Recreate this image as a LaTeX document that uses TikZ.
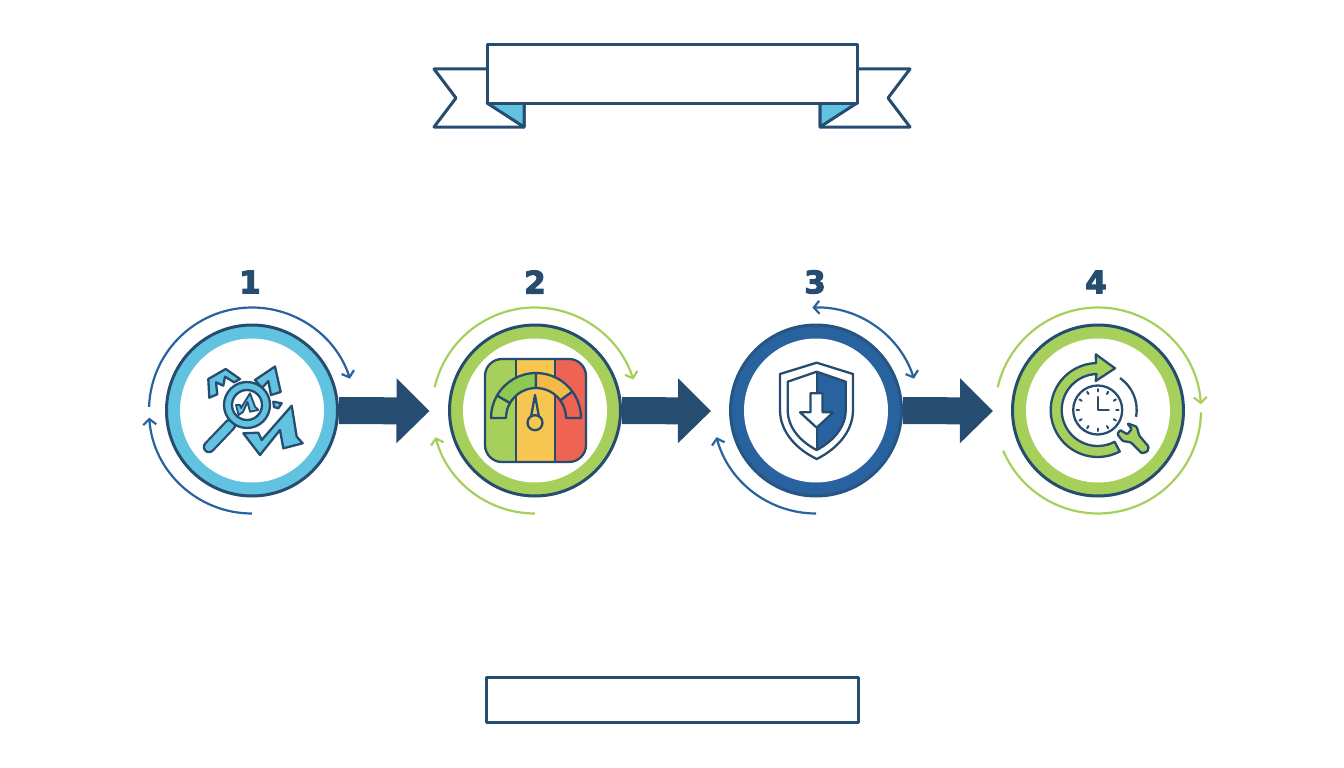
\documentclass[tikz,border=0pt]{standalone}
\usepackage{fontspec}
\setmainfont{DejaVu Sans}[BoldFeatures={FakeBold=3.5}]
\usepackage{tikz}
\usetikzlibrary{arrows.meta,calc}
\definecolor{navy}{HTML}{264D70}
\definecolor{skyc}{HTML}{62C3E0}
\definecolor{leaf}{HTML}{A6CF5B}
\definecolor{deepb}{HTML}{28629F}
\definecolor{sun}{HTML}{F6C650}
\definecolor{coral}{HTML}{EE6352}
\definecolor{amber}{HTML}{F5B947}
\definecolor{midgreen}{HTML}{8FC850}
\newcommand{\orbitarc}[5]
{
\draw[orbit,draw=#2,#5] ([shift={(#3:103)}]#1.center) arc[start angle=#3,end angle=#4,radius=103];
}
\tikzstyle{ringnode}=[circle,line width=3pt,minimum size=171pt,inner sep=0pt]
\tikzstyle{holenode}=[circle,fill=white,minimum size=144pt,inner sep=0pt]
\tikzstyle{numnode}=[font=\bfseries\fontsize{31}{31}\selectfont,text=navy,inner sep=0pt]
\tikzstyle{orbit}=[line width=2.2pt,>={Straight Barb[length=5.5pt,width=13pt]}]
\tikzstyle{flow}=[draw=navy,line width=27pt,-{Triangle[length=33pt,width=63pt]}]
\tikzstyle{ribbon}=[draw=navy,line width=3pt,line join=round]
\tikzstyle{icon}=[draw=navy,line width=2.3pt,line join=round]
\begin{document}
\begin{tikzpicture}[x=1pt,y=1pt]
\useasboundingbox (0,0) rectangle (1344,-768);
% title ribbon
\draw[ribbon,fill=white] (487,-69) -- (434,-69) -- (456,-98) -- (434,-127) -- (524,-127) -- (524,-103);
\draw[ribbon,fill=white] (857,-69) -- (910,-69) -- (888,-98) -- (910,-127) -- (820,-127) -- (820,-103);
\draw[ribbon,fill=skyc] (487,-103) -- (524,-103) -- (524,-127) -- cycle;
\draw[ribbon,fill=skyc] (857,-103) -- (820,-103) -- (820,-127) -- cycle;
\node[ribbon,fill=white,minimum width=370pt,minimum height=58pt,inner sep=0pt] (banner) at (672,-74) {};
\node[ribbon,minimum width=372pt,minimum height=45pt,inner sep=0pt] (footer) at (672,-699.5) {};
% step circles
\node[ringnode,draw=navy,fill=skyc] (c1) at (252,-410.5) {};
\node[ringnode,draw=navy,fill=leaf] (c2) at (535,-410.5) {};
\node[ringnode,draw=navy!60!deepb,fill=deepb] (c3) at (816,-410.5) {};
\node[ringnode,draw=navy,fill=leaf] (c4) at (1098,-410.5) {};
\foreach \i in {1,2,3,4} {\node[holenode] (h\i) at (c\i) {};}
\node[numnode] (n1) at (250,-282) {1};
\node[numnode] (n2) at (535,-282) {2};
\node[numnode] (n3) at (815,-282) {3};
\node[numnode] (n4) at (1096,-282) {4};
\coordinate (t1) at (429.5,-411);
\coordinate (t2) at (711,-411);
\coordinate (t3) at (993,-411);
\draw[flow] (c1.east) -- (t1);
\draw[flow] (c2.east) -- (t2);
\draw[flow] (c3.east) -- (t3);
% arcs round the circles
\orbitarc{c1}{deepb}{178}{18}{->}
\orbitarc{c1}{deepb}{270}{184}{->}
\orbitarc{c2}{leaf}{167}{17.5}{->}
\orbitarc{c2}{leaf}{270}{195}{->}
\orbitarc{c3}{deepb}{92}{18}{<->}
\orbitarc{c3}{deepb}{270}{195}{->}
\orbitarc{c4}{leaf}{167}{3.5}{->}
\orbitarc{c4}{leaf}{-1}{-157}{}
% icon 1
\draw[icon,fill=skyc] (208.3,-379) -- (225.7,-369) -- (240,-379) -- (234,-382.3) -- (225,-376.7) -- (223.3,-385.7) -- (216,-382.3) -- (217.3,-394.3) -- (209.3,-397.7) -- cycle;
\draw[icon,fill=skyc] (255,-380) -- (275,-366.5) -- (280.7,-392) -- (271,-395) -- (268.3,-381) -- (262,-388) -- cycle;
\draw[icon,fill=skyc] (273.3,-401.7) -- (281.7,-403.3) -- (278.3,-408.3) -- (274,-407) -- cycle;
\draw[icon,fill=skyc] (243.3,-433.3) -- (258.3,-432.7) -- (261.7,-440) -- (291.7,-405.7) -- (296.7,-436.7) -- (302.7,-443.3) -- (283.3,-448.3) -- (280,-430) -- (260,-455) -- cycle;
\draw[navy,line width=12.5pt,line cap=round] (230,-425) -- (209,-447);
\draw[skyc,line width=8pt,line cap=round] (230,-425) -- (209,-447);
\draw[icon,fill=skyc] (247,-405) circle (23);
\draw[icon,fill=white] (247,-405) circle (15);
\draw[icon,fill=skyc,line width=1.8pt] (250,-393.3) -- (255,-406.7) -- (258.3,-410) -- (250,-411.7) -- (247.5,-402) -- (243,-412) -- (238.5,-415) -- (236,-405) -- (240,-405) -- (241,-408) -- cycle;
% icon 2
\begin{scope}
\clip[rounded corners=17pt] (485,-359) rectangle (586,-462);
\fill[leaf] (485,-359) rectangle (515.7,-462);
\fill[sun] (515.7,-359) rectangle (555,-462);
\fill[coral] (555,-359) rectangle (586,-462);
\end{scope}
\draw[icon,rounded corners=17pt] (485,-359) rectangle (586,-462);
\draw[icon] (515.7,-359) -- (515.7,-462) (555,-359) -- (555,-462);
\coordinate (gauge) at (536,-418);
\draw[icon,fill=leaf] ($(gauge)+(180:45)$) arc[start angle=180,end angle=150,radius=45] -- ($(gauge)+(150:30)$) arc[start angle=150,end angle=180,radius=30] -- cycle;
\draw[icon,fill=midgreen] ($(gauge)+(150:45)$) arc[start angle=150,end angle=90,radius=45] -- ($(gauge)+(90:30)$) arc[start angle=90,end angle=150,radius=30] -- cycle;
\draw[icon,fill=amber] ($(gauge)+(90:45)$) arc[start angle=90,end angle=36,radius=45] -- ($(gauge)+(36:30)$) arc[start angle=36,end angle=90,radius=30] -- cycle;
\draw[icon,fill=coral] ($(gauge)+(36:45)$) arc[start angle=36,end angle=0,radius=45] -- ($(gauge)+(0:30)$) arc[start angle=0,end angle=36,radius=30] -- cycle;
\draw[icon,fill=sun] (535,-395) -- (531,-417) -- (539,-417) -- cycle;
\draw[icon,fill=sun] (535,-422.7) circle (7.5);
% icon 3
\fill[deepb] (816.7,-371.7) -- (845.7,-381.7) -- (845.7,-410) .. controls (845.7,-428) and (832,-442) .. (816.7,-450) -- cycle;
\draw[icon] (816.7,-362.7) -- (853,-374) -- (853,-410) .. controls (853,-433) and (835,-450) .. (816.7,-459) .. controls (798,-450) and (780,-433) .. (780,-410) -- (780,-374) -- cycle;
\draw[icon] (816.7,-371.7) -- (845.7,-381.7) -- (845.7,-410) .. controls (845.7,-428) and (832,-442) .. (816.7,-450) .. controls (801,-442) and (787.7,-428) .. (787.7,-410) -- (787.7,-381.7) -- cycle;
\draw[icon] (816.7,-371.7) -- (816.7,-393.3) (816.7,-427.7) -- (816.7,-450);
\draw[icon,fill=white] (810.5,-393.3) -- (822.5,-393.3) -- (822.5,-412.3) -- (833.3,-412.3) -- (816.7,-427.7) -- (800,-412.3) -- (810.5,-412.3) -- cycle;
% icon 4
\coordinate (clock) at (1097.7,-410);
\draw[icon,fill=leaf] ($(clock)+(-62:47)$) arc[start angle=-62,end angle=-268,radius=47] -- (1095.7,-354.3) -- (1115,-368.3) -- (1095.7,-381) -- ($(clock)+(92:36)$) arc[start angle=-268,end angle=-62,radius=36] -- cycle;
\draw[icon] ($(clock)+(55:39)$) arc[start angle=55,end angle=-10,radius=39];
\draw[icon,fill=white] (clock) circle (24.5);
\foreach \a in {0,30,...,330} {\draw[navy,line width=2pt,line cap=round] ($(clock)+(\a:18.5)$) -- ($(clock)+(\a:21)$);}
\draw[icon,line cap=round] ($(clock)+(0,13)$) -- (clock) -- ($(clock)+(11,0)$);
\draw[icon,fill=leaf,rounded corners=1pt] (1127.3,-423.3) -- (1136.7,-426.7) -- (1139.3,-435.7) -- (1148.7,-446.7) -- (1147.3,-451.7) -- (1141.7,-453.3) -- (1130.7,-442.3) -- (1122.7,-441) -- (1117.3,-434.3) -- (1120,-430) -- (1127.3,-434.3) -- (1131.7,-429) -- cycle;
\end{tikzpicture}
\end{document}
